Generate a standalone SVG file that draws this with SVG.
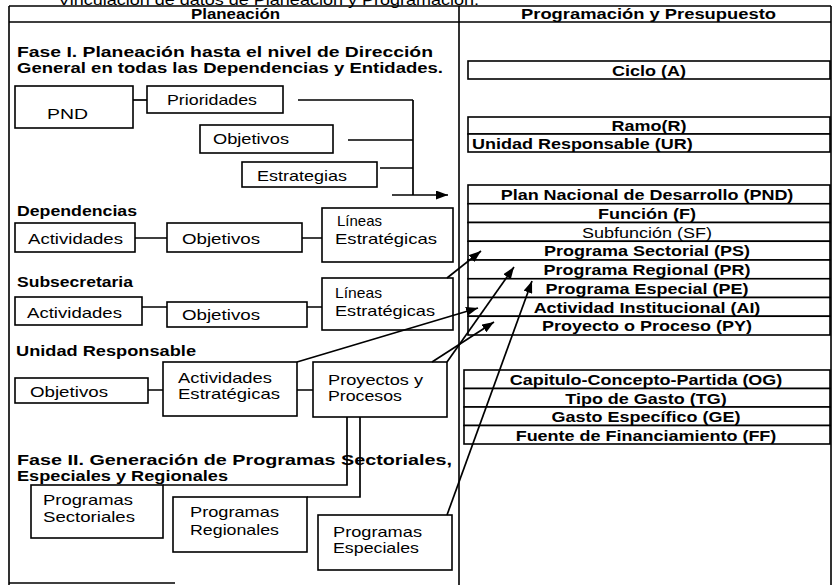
<svg xmlns="http://www.w3.org/2000/svg" width="832" height="585" viewBox="0 0 832 585">
<style>
.bx{fill:#fff;stroke:#000;stroke-width:1.6}
.t{font-family:"Liberation Sans",Arial,sans-serif;font-size:15px;fill:#000}
.b{font-weight:bold}
.c{text-anchor:middle}
.ln{stroke:#000;stroke-width:1.7;fill:none}
.fr{stroke:#000;stroke-width:1.6;fill:none}
</style>
<defs>
<marker id="ah" markerUnits="userSpaceOnUse" markerWidth="13" markerHeight="9" refX="12" refY="4.5" orient="auto">
<path d="M0,0 L12,4.5 L0,9 z" fill="#000"/>
</marker>
</defs>
<rect width="832" height="585" fill="#fff"/>
<text class="t" x="58" y="4.5" textLength="421" lengthAdjust="spacingAndGlyphs">Vinculación de datos de Planeación y Programación.</text>
<g id="frame">
<path class="fr" d="M9,6 H831 M9,22 H831 M9,6 V585 M459,6 V585 M831,6 V585 M9,583 H175"/>
<text class="t b" x="191" y="19" style="font-size:14px" textLength="89" lengthAdjust="spacingAndGlyphs">Planeación</text>
<text class="t b" x="521" y="19" style="font-size:14px" textLength="255" lengthAdjust="spacingAndGlyphs">Programación y Presupuesto</text>
</g>
<g id="headings">
<text class="t b" x="17" y="57" textLength="416" lengthAdjust="spacingAndGlyphs">Fase I. Planeación hasta el nivel de Dirección</text>
<text class="t b" x="17" y="73" textLength="426" lengthAdjust="spacingAndGlyphs">General en todas las Dependencias y Entidades.</text>
<text class="t b" x="17" y="216" textLength="120" lengthAdjust="spacingAndGlyphs">Dependencias</text>
<text class="t b" x="17" y="287" textLength="116" lengthAdjust="spacingAndGlyphs">Subsecretaria</text>
<text class="t b" x="16" y="356" textLength="180" lengthAdjust="spacingAndGlyphs">Unidad Responsable</text>
<text class="t b" x="17" y="465" textLength="435" lengthAdjust="spacingAndGlyphs">Fase II. Generación de Programas Sectoriales,</text>
<text class="t b" x="17" y="481" textLength="211" lengthAdjust="spacingAndGlyphs">Especiales y Regionales</text>
</g>
<g id="pnd"><rect class="bx" x="15" y="86" width="118" height="42"/><text class="t" x="47" y="119" textLength="41" lengthAdjust="spacingAndGlyphs">PND</text></g>
<g id="prioridades"><rect class="bx" x="147" y="86" width="136" height="27"/><text class="t" x="167" y="105" textLength="90" lengthAdjust="spacingAndGlyphs">Prioridades</text></g>
<g id="objetivos1"><rect class="bx" x="200" y="125" width="133" height="28"/><text class="t" x="213" y="144" textLength="76" lengthAdjust="spacingAndGlyphs">Objetivos</text></g>
<g id="estrategias"><rect class="bx" x="242" y="162" width="135" height="25"/><text class="t" x="257" y="181" textLength="90" lengthAdjust="spacingAndGlyphs">Estrategias</text></g>
<g id="dep-actividades"><rect class="bx" x="15" y="223" width="120" height="29"/><text class="t" x="28" y="244" textLength="95" lengthAdjust="spacingAndGlyphs">Actividades</text></g>
<g id="dep-objetivos"><rect class="bx" x="167" y="223" width="135" height="29"/><text class="t" x="182" y="244" textLength="78" lengthAdjust="spacingAndGlyphs">Objetivos</text></g>
<g id="dep-lineas"><rect class="bx" x="322" y="208" width="131" height="54"/><text class="t" x="337" y="226" textLength="45" lengthAdjust="spacingAndGlyphs">Líneas</text><text class="t" x="335" y="244" textLength="102" lengthAdjust="spacingAndGlyphs">Estratégicas</text></g>
<g id="sub-actividades"><rect class="bx" x="15" y="297" width="127" height="28"/><text class="t" x="27" y="318" textLength="95" lengthAdjust="spacingAndGlyphs">Actividades</text></g>
<g id="sub-objetivos"><rect class="bx" x="167" y="302" width="140" height="25"/><text class="t" x="182" y="320" textLength="78" lengthAdjust="spacingAndGlyphs">Objetivos</text></g>
<g id="sub-lineas"><rect class="bx" x="322" y="278" width="131" height="52"/><text class="t" x="335" y="298" textLength="47" lengthAdjust="spacingAndGlyphs">Líneas</text><text class="t" x="335" y="316" textLength="100" lengthAdjust="spacingAndGlyphs">Estratégicas</text></g>
<g id="ur-objetivos"><rect class="bx" x="15" y="378" width="133" height="25"/><text class="t" x="30" y="397" textLength="78" lengthAdjust="spacingAndGlyphs">Objetivos</text></g>
<g id="ur-actividades"><rect class="bx" x="163" y="362" width="134" height="54"/><text class="t" x="178" y="383" textLength="94" lengthAdjust="spacingAndGlyphs">Actividades</text><text class="t" x="178" y="399" textLength="102" lengthAdjust="spacingAndGlyphs">Estratégicas</text></g>
<g id="proyectos"><rect class="bx" x="313" y="362" width="134" height="55"/><text class="t" x="328" y="385" textLength="95" lengthAdjust="spacingAndGlyphs">Proyectos y</text><text class="t" x="328" y="401" textLength="74" lengthAdjust="spacingAndGlyphs">Procesos</text></g>
<g id="prog-sectoriales"><rect class="bx" x="31" y="485" width="132" height="53"/><text class="t" x="43" y="505" textLength="90" lengthAdjust="spacingAndGlyphs">Programas</text><text class="t" x="43" y="522" textLength="92" lengthAdjust="spacingAndGlyphs">Sectoriales</text></g>
<g id="prog-regionales"><rect class="bx" x="173" y="497" width="134" height="55"/><text class="t" x="190" y="517" textLength="89" lengthAdjust="spacingAndGlyphs">Programas</text><text class="t" x="190" y="535" textLength="89" lengthAdjust="spacingAndGlyphs">Regionales</text></g>
<g id="prog-especiales"><rect class="bx" x="318" y="515" width="134" height="55"/><text class="t" x="333" y="537" textLength="89" lengthAdjust="spacingAndGlyphs">Programas</text><text class="t" x="333" y="553" textLength="86" lengthAdjust="spacingAndGlyphs">Especiales</text></g>
<g id="ciclo"><rect class="bx" x="468" y="61" width="362" height="18"/><text class="t b c" transform="translate(649,75.5) scale(1.2,1)">Ciclo (A)</text></g>
<g id="ramo"><rect class="bx" x="468" y="117" width="362" height="17"/><text class="t b c" transform="translate(649,131) scale(1.2,1)">Ramo(R)</text></g>
<g id="ur"><rect class="bx" x="468" y="134" width="362" height="18"/><text class="t b" transform="translate(472,148.5) scale(1.2,1)">Unidad Responsable (UR)</text></g>
<g id="r-pnd"><rect class="bx" x="468" y="185" width="362" height="18.75"/><text class="t b c" transform="translate(647,200) scale(1.2,1)">Plan Nacional de Desarrollo (PND)</text></g>
<g id="r-f"><rect class="bx" x="468" y="203.75" width="362" height="18.75"/><text class="t b c" transform="translate(647,218.8) scale(1.2,1)">Función (F)</text></g>
<g id="r-sf"><rect class="bx" x="468" y="222.5" width="362" height="18.75"/><text class="t c" transform="translate(647,237.5) scale(1.2,1)">Subfunción (SF)</text></g>
<g id="r-ps"><rect class="bx" x="468" y="241.25" width="362" height="18.75"/><text class="t b c" transform="translate(647,256.3) scale(1.2,1)">Programa Sectorial (PS)</text></g>
<g id="r-pr"><rect class="bx" x="468" y="260" width="362" height="18.75"/><text class="t b c" transform="translate(647,275) scale(1.2,1)">Programa Regional (PR)</text></g>
<g id="r-pe"><rect class="bx" x="468" y="278.75" width="362" height="18.75"/><text class="t b c" transform="translate(647,293.8) scale(1.2,1)">Programa Especial (PE)</text></g>
<g id="r-ai"><rect class="bx" x="468" y="297.5" width="362" height="18.75"/><text class="t b c" transform="translate(647,312.5) scale(1.2,1)">Actividad Institucional (AI)</text></g>
<g id="r-py"><rect class="bx" x="468" y="316.25" width="362" height="18.75"/><text class="t b c" transform="translate(647,331.3) scale(1.2,1)">Proyecto o Proceso (PY)</text></g>
<g id="r-og"><rect class="bx" x="464" y="370" width="366" height="18.5"/><text class="t b c" transform="translate(646,385) scale(1.2,1)">Capitulo-Concepto-Partida (OG)</text></g>
<g id="r-tg"><rect class="bx" x="464" y="388.5" width="366" height="18.5"/><text class="t b c" transform="translate(646,403.5) scale(1.2,1)">Tipo de Gasto (TG)</text></g>
<g id="r-ge"><rect class="bx" x="464" y="407" width="366" height="18.5"/><text class="t b c" transform="translate(646,422) scale(1.2,1)">Gasto Específico (GE)</text></g>
<g id="r-ff"><rect class="bx" x="464" y="425.5" width="366" height="18.5"/><text class="t b c" transform="translate(646,440.5) scale(1.2,1)">Fuente de Financiamiento (FF)</text></g>
<g id="connectors">
<path class="ln" d="M133,100 H147"/>
<path class="ln" d="M298,100 H413 M348,140 H413 M380,168 H413 M413,100 V195"/>
<path class="ln" d="M392,195 H448" marker-end="url(#ah)"/>
<path class="ln" d="M135,238 H167 M302,238 H322"/>
<path class="ln" d="M142,307 H167 M307,307 H322"/>
<path class="ln" d="M148,390 H163 M297,390 H313"/>
<path class="ln" d="M347,417 V485 H163 M360,417 V497 H307"/>
<path class="ln" d="M447,278 L481,251" marker-end="url(#ah)"/>
<path class="ln" d="M297,362 L478,308" marker-end="url(#ah)"/>
<path class="ln" d="M432,362 L494,322" marker-end="url(#ah)"/>
<path class="ln" d="M447,362 L514,267" marker-end="url(#ah)"/>
<path class="ln" d="M447,515 L532,281" marker-end="url(#ah)"/>
</g>
</svg>
